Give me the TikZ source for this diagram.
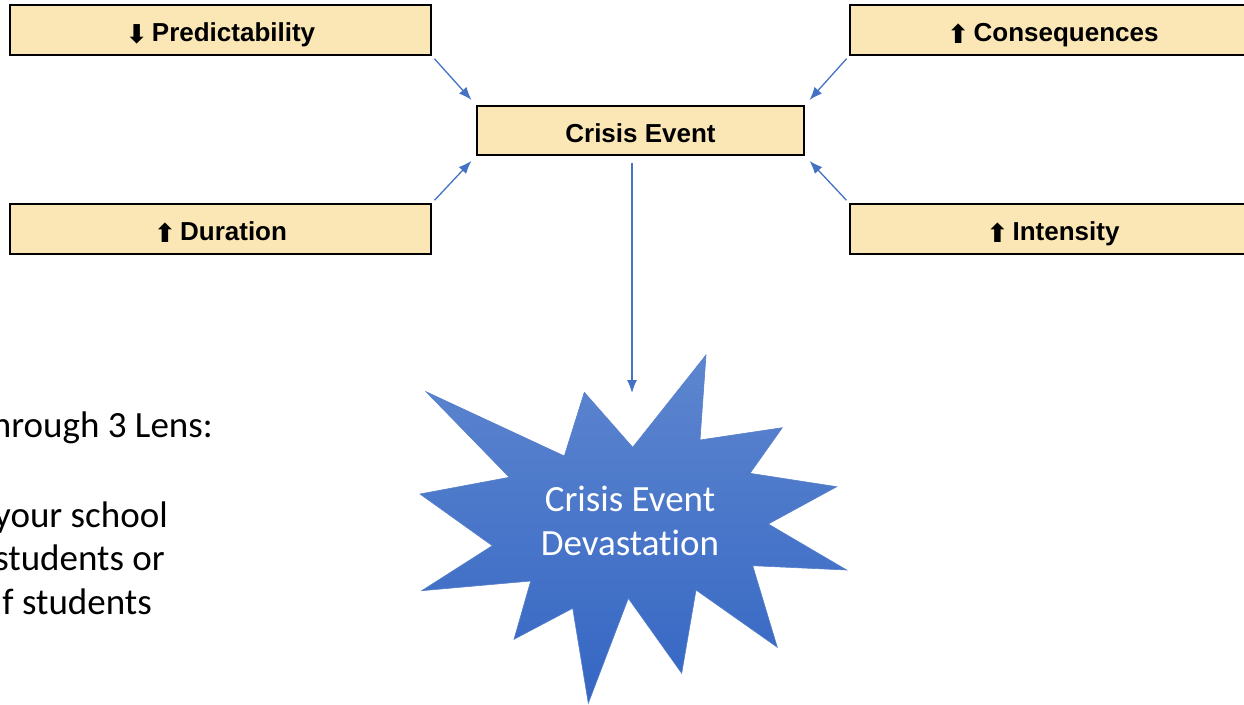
\documentclass[tikz,border=0pt]{standalone}
\usepackage{fontspec}
\usetikzlibrary{arrows.meta}
\setmainfont{Liberation Sans}
\newfontfamily\calibri[Ligatures=NoCommon]{Carlito}
\newfontfamily\symb{DejaVu Sans}
\definecolor{boxfill}{HTML}{FBE7B5}
\definecolor{linkblue}{HTML}{4472C4}
\definecolor{startop}{HTML}{5E86CF}
\definecolor{starbot}{HTML}{3466C3}
\newcommand{\up}{\raisebox{-1.5pt}{\symb\fontsize{26}{26}\selectfont\char"2B06}}
\newcommand{\down}{\raisebox{-1.5pt}{\symb\fontsize{26}{26}\selectfont\char"2B07}}
\begin{document}
\begin{tikzpicture}[x=1pt,y=-1pt,>={Latex[length=13pt,width=10pt]}]
\tikzset{
  factor/.style={draw=black, fill=boxfill, line width=1.6pt, minimum height=50pt, inner sep=0pt,
    text height=23.4pt, text depth=0pt, font=\fontsize{26}{30}\selectfont\bfseries},
  link/.style={->, color=linkblue, line width=1.3pt, shorten >=7pt, shorten <=4pt},
  lens/.style={anchor=base east, inner sep=0pt, font=\calibri\fontsize{37}{40}\selectfont}
}
\useasboundingbox (0,0) rectangle (1244,704);

% factor boxes
\node [factor, minimum width=421pt] (predict) at (220.5,30) {\down\,Predictability};
\node [factor, minimum width=406pt] (conseq) at (1053,30) {\up\,Consequences};
\node [factor, minimum width=421pt] (duration) at (220.5,229) {\up\,Duration};
\node [factor, minimum width=406pt] (intens) at (1053,229) {\up\,Intensity};
\node [factor, minimum width=327pt, minimum height=49pt] (crisis) at (640.5,130.5) {Crisis Event};

\draw [link] (predict.south east) -- (crisis.north west);
\draw [link] (duration.north east) -- (crisis.south west);
\draw [link] (conseq.south west) -- (crisis.north east);
\draw [link] (intens.north west) -- (crisis.south east);

% the star
\shade [top color=startop, bottom color=starbot, draw=linkblue!90, line width=0.6pt]
(706,355) -- (700,440) -- (782.3,427.7) -- (750,473.3) -- (836.7,486.7)
-- (768.3,524) -- (846.7,570) -- (752.7,565.7) -- (777.3,647.3) -- (696,590)
-- (681.7,673.3) -- (628.3,598.3) -- (588.3,703.3) -- (572.7,608.3) -- (514,639.3)
-- (530.7,581) -- (421.7,590.7) -- (492.3,545.7) -- (420,494) -- (509.3,477.3)
-- (426,391.7) -- (564.3,456) -- (584.3,392.3) -- (632.7,447.3) -- cycle;
\node [align=center, text=white, font=\calibri\fontsize{37}{44}\selectfont] (devast) at (630,521) {Crisis Event\\Devastation};

\coordinate (hit) at (632,393);
\draw [->, color=linkblue, line width=1.3pt, shorten <=7pt] ([xshift=-8.5pt]crisis.south) -- (hit);

% lens text, cut at the left edge
\node [lens] (lens0) at (213,437) {hrough 3 Lens:};
\node [lens] (lens1) at (168,527) {your school};
\node [lens] (lens2) at (165,570) {students or};
\node [lens] (lens3) at (152,614) {f students};

\end{tikzpicture}
\end{document}
